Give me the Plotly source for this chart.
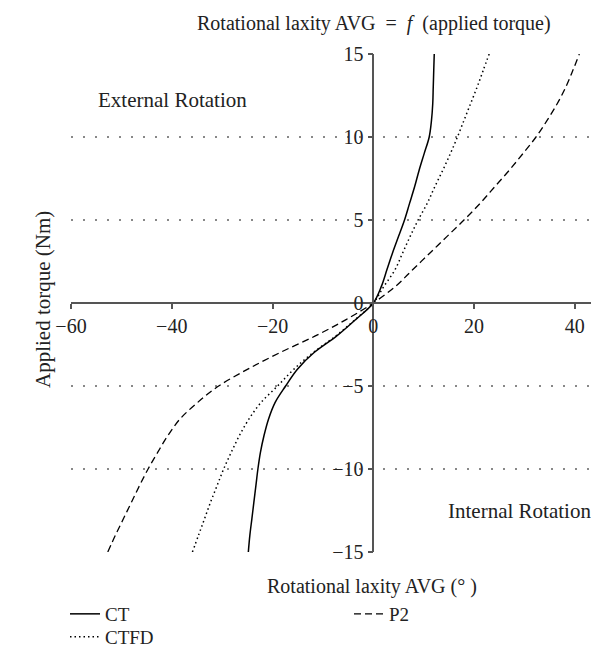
import plotly.graph_objects as go

torque = [-15, -14, -13, -12, -11, -10, -9, -8, -7, -6, -5, -4, -3, -2, -1, 0,
          1, 2, 3, 4, 5, 6, 7, 8, 9, 10, 11, 12, 13, 14, 15]

laxity_ct = [-24.8, -24.5, -24.1, -23.7, -23.3, -22.9, -22.4, -21.7, -20.8, -19.5, -17.4,
             -15.1, -11.8, -7.3, -3.5, 0.0,
             1.6, 2.7, 3.8, 5.0, 6.2, 7.2, 8.2, 9.1, 10.1, 11.1, 11.55, 11.8, 11.9, 12.0, 12.1]

laxity_ctfd = [-35.9, -34.7, -33.5, -32.3, -31.0, -29.7, -28.2, -26.6, -24.7, -22.3, -19.0,
               -15.8, -12.0, -7.5, -3.6, 0.0,
               2.1, 4.3, 5.8, 7.3, 8.9, 10.7, 12.2, 13.8, 15.3, 16.7, 18.0, 19.3, 20.6, 21.8, 23.0]

laxity_p2 = [-52.7, -51.2, -49.6, -48.0, -46.4, -44.7, -42.8, -40.8, -38.4, -34.9, -30.7,
             -25.0, -18.6, -11.6, -5.4, 0.0,
             4.4, 7.8, 11.2, 14.6, 18.0, 21.2, 24.1, 27.0, 29.7, 32.3, 34.5, 36.5, 38.2, 39.6, 40.9]

x_ticks = [-60, -40, -20, 0, 20, 40]
y_ticks = [-15, -10, -5, 0, 5, 10, 15]

FONT = "Liberation Serif"
W, H = 599, 654
ML, MR, MT, MB = 63, 7, 46, 110
PW = W - ML - MR
PH = H - MT - MB

def px_x(p):
    return (p - ML) / PW

def px_y(p):
    return (H - MB - p) / PH

fig = go.Figure()
fig.add_trace(go.Scatter(x=laxity_ct, y=torque, mode="lines", name="CT", legend="legend",
                         line=dict(color="black", width=1.5, shape="spline")))
fig.add_trace(go.Scatter(x=laxity_p2, y=torque, mode="lines", name="P2", legend="legend2",
                         line=dict(color="black", width=1.3, dash="7px,4px", shape="spline")))
fig.add_trace(go.Scatter(x=laxity_ctfd, y=torque, mode="lines", name="CTFD", legend="legend3",
                         line=dict(color="black", width=1.5, dash="1.5px,3px", shape="spline")))

legend_font = dict(size=19, family=FONT, color="#222")

def legend_at(px, py):
    return dict(orientation="v", x=px_x(px), xanchor="left", y=px_y(py), yanchor="middle",
                font=legend_font, bgcolor="rgba(0,0,0,0)", borderwidth=0)

fig.update_layout(
    width=W, height=H,
    margin=dict(l=ML, r=MR, t=MT, b=MB, autoexpand=False),
    paper_bgcolor="white", plot_bgcolor="white",
    font=dict(family=FONT, size=20, color="#222"),
    showlegend=True,
    legend=legend_at(57, 606),
    legend2=legend_at(341, 606),
    legend3=legend_at(57, 629),
    xaxis=dict(range=[-60, 45], anchor="free", position=0.5, showline=True,
               linecolor="#555", linewidth=1.5, ticks="outside", ticklen=5,
               tickcolor="#555", tickwidth=1.5, tickvals=x_ticks,
               showgrid=False, zeroline=False, tickfont=dict(size=20, family=FONT)),
    yaxis=dict(range=[-15, 15], anchor="free", position=60 / 105, showline=True,
               linecolor="#555", linewidth=1.5, ticks="outside", ticklen=5,
               tickcolor="#555", tickwidth=1.5, tickvals=y_ticks,
               showgrid=True, gridcolor="#888", gridwidth=1.5, griddash="1.5px,10.5px",
               zeroline=False, tickfont=dict(size=20, family=FONT)),
    annotations=[
        dict(text="Rotational laxity AVG  =  <i>f</i>  (applied torque)", x=px_x(366), y=px_y(16),
             xref="paper", yref="paper", showarrow=False, xanchor="center", yanchor="middle",
             font=dict(size=20, family=FONT)),
        dict(text="Rotational laxity AVG (° )", x=px_x(364), y=px_y(578),
             xref="paper", yref="paper", showarrow=False, xanchor="center", yanchor="middle",
             font=dict(size=20, family=FONT)),
        dict(text="Applied torque (Nm)", x=px_x(35), y=px_y(292), textangle=-90,
             xref="paper", yref="paper", showarrow=False, xanchor="center", yanchor="middle",
             font=dict(size=21, family=FONT)),
        dict(text="External Rotation", x=px_x(88), y=px_y(92),
             xref="paper", yref="paper", showarrow=False, xanchor="left", yanchor="middle",
             font=dict(size=21, family=FONT)),
        dict(text="Internal Rotation", x=px_x(585), y=px_y(503),
             xref="paper", yref="paper", showarrow=False, xanchor="right", yanchor="middle",
             font=dict(size=21, family=FONT)),
    ],
)

fig.write_html("out.html")
